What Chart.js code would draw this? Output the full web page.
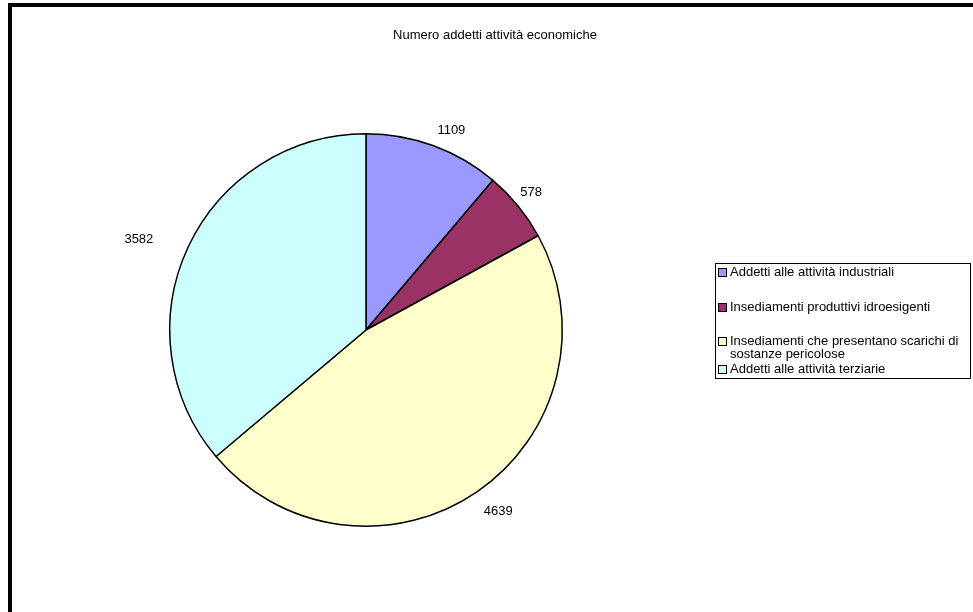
<!DOCTYPE html>
<html>
<head>
<meta charset="utf-8">
<script src="https://cdn.jsdelivr.net/npm/chart.js@4.4.0/dist/chart.umd.min.js"></script>
<style>
    html, body { margin: 0; padding: 0; background: #fff; overflow: hidden; }
    #wrap { position: relative; width: 973px; height: 612px; }
    #frame {
        position: absolute; left: 8px; top: 3px; width: 1000px; height: 700px;
        border-left: 4px solid #000; border-top: 4px solid #000; pointer-events: none;
    }
</style>
</head>
<body>
<div id="wrap">
    <canvas id="pieChart" width="973" height="612"></canvas>
    <div id="frame"></div>
</div>
<script>
const chartTitle = 'Numero addetti attività economiche';
const categories = [
    'Addetti alle attività industriali',
    'Insediamenti produttivi idroesigenti',
    'Insediamenti che presentano scarichi di sostanze pericolose',
    'Addetti alle attività terziarie'
];
// legend text split into lines the way it wraps in the box
const legendLines = [
    ['Addetti alle attività industriali'],
    ['Insediamenti produttivi idroesigenti'],
    ['Insediamenti che presentano scarichi di', 'sostanze pericolose'],
    ['Addetti alle attività terziarie']
];
const values = [1109, 578, 4639, 3582];
const colors = ['#9999FF', '#993366', '#FFFFCC', '#CCFFFF'];
// value label placement: distance from the rim and small angle nudge (degrees)
const labelGaps = [11, 7, 16, 33];
const labelNudge = [0, -1.4, 0.7, -3];

const FONT = '13px "Liberation Sans", Arial, sans-serif';

const titlePlugin = {
    id: 'titleText',
    afterDraw(chart) {
        const ctx = chart.ctx;
        ctx.save();
        ctx.font = FONT;
        ctx.fillStyle = '#000';
        ctx.textAlign = 'center';
        ctx.textBaseline = 'middle';
        ctx.fillText(chartTitle, 495, 35);
        ctx.restore();
    }
};

const valueLabels = {
    id: 'valueLabels',
    afterDatasetsDraw(chart) {
        const ctx = chart.ctx;
        const meta = chart.getDatasetMeta(0);
        ctx.save();
        ctx.font = FONT;
        ctx.fillStyle = '#000';
        ctx.textAlign = 'center';
        ctx.textBaseline = 'middle';
        meta.data.forEach((arc, i) => {
            const mid = (arc.startAngle + arc.endAngle) / 2 + labelNudge[i] * Math.PI / 180;
            const r = arc.outerRadius + labelGaps[i];
            const dx = Math.cos(mid), dy = Math.sin(mid);
            const px = arc.x + dx * r;
            const py = arc.y + dy * r;
            const text = String(values[i]);
            const w = ctx.measureText(text).width;
            const h = 10;
            ctx.fillText(text, px + Math.sign(dx) * w / 2, py + Math.sign(dy) * h / 2);
        });
        ctx.restore();
    }
};

const boxLegend = {
    id: 'boxLegend',
    afterDraw(chart) {
        const ctx = chart.ctx;
        const left = 715, top = 263, right = 970, bottom = 378;
        const rows = [272, 307, 341, 369];
        ctx.save();
        ctx.strokeStyle = '#000';
        ctx.lineWidth = 1;
        ctx.strokeRect(left + 0.5, top + 0.5, right - left, bottom - top);
        ctx.font = FONT;
        ctx.textBaseline = 'middle';
        ctx.textAlign = 'left';
        legendLines.forEach((lines, i) => {
            const y = rows[i];
            ctx.fillStyle = colors[i];
            ctx.fillRect(718, y - 4, 9, 9);
            ctx.strokeStyle = '#000';
            ctx.strokeRect(718.5, y - 3.5, 8, 8);
            ctx.fillStyle = '#000';
            lines.forEach((line, j) => {
                ctx.fillText(line, 730, y + j * 13.5);
            });
        });
        ctx.restore();
    }
};

new Chart(document.getElementById('pieChart').getContext('2d'), {
    type: 'pie',
    data: {
        labels: categories,
        datasets: [{
            data: values,
            backgroundColor: colors,
            borderColor: '#000',
            borderWidth: 1.5,
            hoverOffset: 0,
            offset: 0
        }]
    },
    options: {
        responsive: false,
        animation: false,
        events: [],
        layout: {
            padding: { left: 169, right: 410, top: 133, bottom: 85 }
        },
        plugins: {
            legend: { display: false },
            title: { display: false },
            tooltip: { enabled: false }
        }
    },
    plugins: [titlePlugin, valueLabels, boxLegend]
});
</script>
</body>
</html>
